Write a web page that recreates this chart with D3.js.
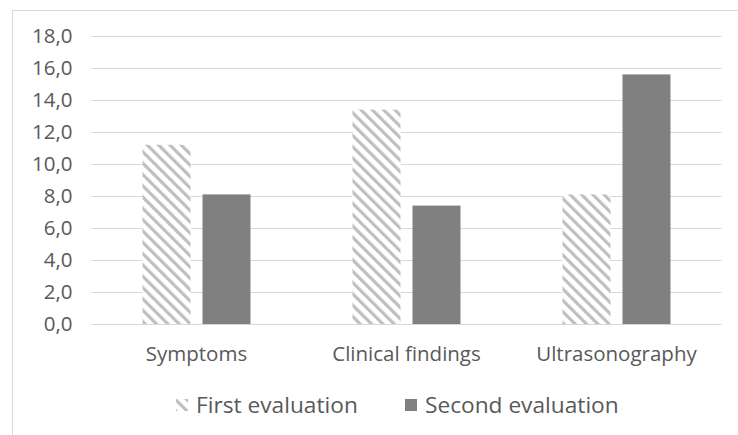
<!DOCTYPE html>
<html><head><meta charset="utf-8">
<script src="https://cdn.jsdelivr.net/npm/d3@7"></script>
<style>body{margin:0;background:#fff}svg{display:block}text{font-family:"Open Sans",sans-serif;fill:#595959}</style>
</head><body><svg id="c" width="738" height="435"></svg>
<script>
const categories = ["Symptoms", "Clinical findings", "Ultrasonography"];
const seriesNames = ["First evaluation", "Second evaluation"];
const firstEval = [11.2, 13.4, 8.1];
const secondEval = [8.1, 7.4, 15.6];
const yTicks = [0, 2, 4, 6, 8, 10, 12, 14, 16, 18];

(function () {
const svg = d3.select("#c");
const defs = svg.append("defs");
const pat = defs.append("pattern").attr("id", "hatch").attr("patternUnits", "userSpaceOnUse")
  .attr("width", 8).attr("height", 8).attr("patternTransform", "rotate(-45)");
pat.append("rect").attr("width", 8).attr("height", 8).attr("fill", "#fff");
pat.append("rect").attr("x", 0).attr("width", 3.2).attr("height", 8).attr("fill", "#bfbfbf");

svg.append("rect").attr("x", 12.5).attr("y", 10.5).attr("width", 740).attr("height", 440)
  .attr("fill", "none").attr("stroke", "#d9d9d9");

const pL = 91.5, pR = 721.5, pT = 36, pB = 324;
const x = d3.scaleBand().domain(categories).range([pL, pR]);
const y = d3.scaleLinear().domain([0, 18]).range([pB, pT]);

const yAxis = svg.append("g").attr("transform", `translate(${pL},0)`)
  .call(d3.axisLeft(y).tickValues(yTicks).tickSize(-(pR - pL)).tickFormat(d => d3.format(".1f")(d).replace(".", ",")));
yAxis.select(".domain").remove();
yAxis.selectAll(".tick line").attr("stroke", "#d9d9d9");
yAxis.selectAll(".tick text").attr("x", -19).attr("font-size", 20.5).style("font-family", '"Open Sans",sans-serif').attr("fill", "#595959");

const barW = 48, gap = 12;
const data = [firstEval, secondEval];
data.forEach((vals, s) => {
  svg.append("g").selectAll("rect").data(vals).join("rect")
    .attr("x", (d, i) => x(categories[i]) + x.bandwidth() / 2 - gap / 2 - barW + s * (barW + gap))
    .attr("y", d => y(d))
    .attr("width", barW)
    .attr("height", d => y(0) - y(d))
    .attr("fill", s === 0 ? "url(#hatch)" : "#808080");
});

svg.append("g").selectAll("text").data(categories).join("text")
  .attr("x", d => x(d) + x.bandwidth() / 2).attr("y", 361)
  .attr("text-anchor", "middle").attr("font-size", 20.5).text(d => d);

const legX = [176, 405];
const lg = svg.append("g");
seriesNames.forEach((n, i) => {
  lg.append("rect").attr("x", legX[i]).attr("y", 399).attr("width", 12).attr("height", 12)
    .attr("fill", i === 0 ? "url(#hatch)" : "#808080");
  lg.append("text").attr("x", legX[i] + 20).attr("y", 413).attr("font-size", 22.7).text(n);
});
})();
</script></body></html>
